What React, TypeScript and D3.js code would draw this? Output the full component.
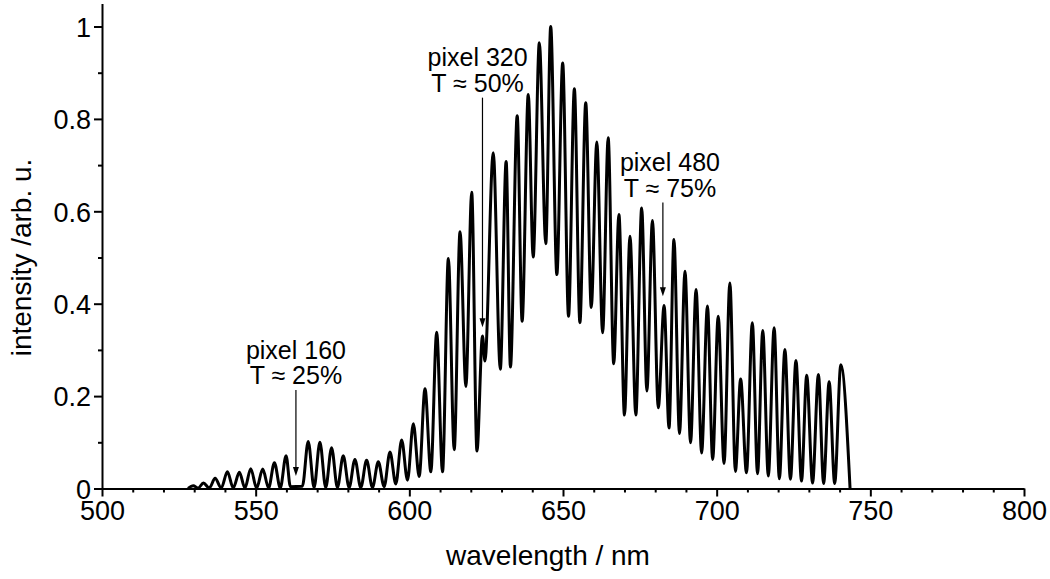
import React, { useRef, useEffect } from 'react'
import * as d3 from 'd3'

// Spectrum turning points (valley, peak, valley, ...)
const wavelengthNm = [
  528.0, 529.7, 531.3, 533.0, 534.9, 536.8, 538.8, 540.8, 542.7, 544.7,
  546.5, 548.4, 550.3, 552.3, 554.2, 556.1, 558.0, 559.9, 561.3, 565.2,
  567.1, 569.0, 570.9, 572.8, 574.7, 576.6, 578.5, 580.4, 582.3, 584.2,
  586.1, 588.0, 589.9, 591.8, 593.7, 595.6, 597.5, 599.4, 601.3, 603.2,
  605.1, 607.0, 608.9, 610.8, 612.7, 614.6, 616.5, 618.4, 620.3, 622.0,
  623.8, 624.6, 627.3, 629.6, 631.5, 632.9, 635.1, 636.7, 638.7, 640.3,
  642.3, 644.4, 646.0, 648.0, 649.9, 651.8, 653.7, 655.5, 657.4, 659.2,
  661.0, 662.9, 664.7, 666.5, 668.2, 670.0, 671.8, 673.7, 675.6, 677.3,
  679.1, 681.0, 682.9, 684.5, 686.1, 687.9, 689.7, 691.5, 693.3, 695.1,
  697.0, 698.7, 700.5, 702.4, 704.3, 706.1, 707.8, 709.7, 711.6, 713.3,
  715.0, 716.8, 718.7, 720.4, 722.2, 724.0, 725.8, 727.6, 729.3, 731.2,
  733.1, 734.8, 736.6, 738.4, 740.4, 743.4,
]
const intensity = [
  0.000, 0.006, 0.001, 0.012, 0.001, 0.022, 0.001, 0.036, 0.001, 0.035,
  0.001, 0.043, 0.001, 0.042, 0.001, 0.056, 0.001, 0.071, 0.004, 0.005,
  0.102, 0.002, 0.100, 0.002, 0.088, 0.002, 0.071, 0.002, 0.063, 0.002,
  0.061, 0.002, 0.058, 0.004, 0.079, 0.010, 0.105, 0.018, 0.140, 0.026,
  0.216, 0.036, 0.338, 0.036, 0.498, 0.084, 0.556, 0.221, 0.641, 0.081,
  0.330, 0.276, 0.727, 0.258, 0.708, 0.263, 0.807, 0.362, 0.853, 0.501,
  0.965, 0.530, 1.000, 0.463, 0.921, 0.373, 0.865, 0.359, 0.835, 0.392,
  0.750, 0.337, 0.759, 0.270, 0.593, 0.159, 0.546, 0.159, 0.607, 0.211,
  0.580, 0.175, 0.396, 0.131, 0.539, 0.119, 0.470, 0.099, 0.431, 0.077,
  0.395, 0.063, 0.373, 0.054, 0.445, 0.037, 0.237, 0.034, 0.359, 0.032,
  0.342, 0.027, 0.348, 0.021, 0.301, 0.020, 0.277, 0.016, 0.245, 0.012,
  0.247, 0.011, 0.231, 0.011, 0.268, 0.000,
]

const xTicks = [500, 550, 600, 650, 700, 750, 800]
const xMinorTicks = [510, 520, 530, 540, 560, 570, 580, 590, 610, 620, 630, 640, 660, 670, 680, 690, 710, 720, 730, 740, 760, 770, 780, 790]
const yTicks = [0, 0.2, 0.4, 0.6, 0.8, 1]
const yTickLabels = ['0', '0.2', '0.4', '0.6', '0.8', '1']
const yMinorTicks = [0.1, 0.3, 0.5, 0.7, 0.9]

// annotations: two text lines, arrow wavelength, text wavelength, arrow tail/tip intensity
const noteLine1 = ['pixel 160', 'pixel 320', 'pixel 480']
const noteLine2 = ['T ≈ 25%', 'T ≈ 50%', 'T ≈ 75%']
const noteArrowNm = [563.1, 623.8, 682.5]
const noteTextNm = [563.1, 622.2, 684.8]
const noteTail = [0.213, 0.846, 0.619]
const noteTip = [0.027, 0.349, 0.416]

const font = '"Liberation Sans", Arial, sans-serif'

export default function App() {
  const ref = useRef<SVGSVGElement>(null)
  const layout = { width: 1050, height: 579, marginLeft: 102, marginRight: 26, marginTop: 3.4, marginBottom: 90.5 }

  useEffect(() => {
    const svg = d3.select(ref.current)
    svg.selectAll('*').remove()

    const x = d3.scaleLinear()
      .domain([500, 800])
      .range([layout.marginLeft, layout.width - layout.marginRight])
    const y = d3.scaleLinear()
      .domain([0, 1.05])
      .range([layout.height - layout.marginBottom, layout.marginTop])

    const y0 = y(0)

    // minor ticks
    svg.append('g')
      .attr('transform', `translate(0, ${y0})`)
      .call(d3.axisBottom(x).tickValues(xMinorTicks).tickSize(4).tickSizeOuter(0).tickFormat(() => ''))
      .call(g => g.select('.domain').remove())
    svg.append('g')
      .attr('transform', `translate(${layout.marginLeft}, 0)`)
      .call(d3.axisLeft(y).tickValues(yMinorTicks).tickSize(4).tickSizeOuter(0).tickFormat(() => ''))
      .call(g => g.select('.domain').remove())

    // major axes
    svg.append('g')
      .attr('transform', `translate(0, ${y0})`)
      .call(d3.axisBottom(x).tickValues(xTicks).tickSize(8).tickSizeOuter(0).tickPadding(4).tickFormat(d => String(d)))
    const yAxis = svg.append('g')
      .attr('transform', `translate(${layout.marginLeft}, 0)`)
      .call(d3.axisLeft(y).tickValues(yTicks).tickSize(8).tickSizeOuter(0).tickPadding(3)
        .tickFormat((d, i) => yTickLabels[i]))

    svg.selectAll('.tick line').attr('stroke', '#000').attr('stroke-width', 2)
    svg.selectAll('.domain').attr('stroke', '#000').attr('stroke-width', 2)
    svg.selectAll('.tick text')
      .attr('fill', '#000')
      .attr('font-family', font)
      .attr('font-size', 27)
    yAxis.selectAll('.tick text').attr('dy', '0.36em')

    // spectrum
    const line = d3.line<number>()
      .x((d, i) => x(wavelengthNm[i]))
      .y(d => y(d))
      .curve(d3.curveMonotoneX)

    svg.append('path')
      .datum(intensity)
      .attr('d', line)
      .attr('fill', 'none')
      .attr('stroke', '#000')
      .attr('stroke-width', 3)
      .attr('stroke-linejoin', 'round')

    // annotations
    const notes = svg.append('g').attr('font-family', font).attr('font-size', 25).attr('fill', '#000')
    noteLine1.forEach((t, i) => {
      const ax = x(noteArrowNm[i])
      const tail = y(noteTail[i])
      const tip = y(noteTip[i])
      notes.append('line')
        .attr('x1', ax).attr('x2', ax)
        .attr('y1', tail).attr('y2', tip - 6)
        .attr('stroke', '#000').attr('stroke-width', 1.2)
      notes.append('path')
        .attr('d', `M${ax},${tip} L${ax - 3},${tip - 9} L${ax + 3},${tip - 9} Z`)
        .attr('fill', '#000')
      notes.append('text')
        .attr('x', x(noteTextNm[i]))
        .attr('y', tail - 6 - 25.5)
        .attr('text-anchor', 'middle')
        .text(t)
      notes.append('text')
        .attr('x', x(noteTextNm[i]))
        .attr('y', tail - 6)
        .attr('text-anchor', 'middle')
        .text(noteLine2[i])
    })

    // axis titles
    svg.append('text')
      .attr('x', 548)
      .attr('y', 565)
      .attr('text-anchor', 'middle')
      .attr('font-family', font)
      .attr('font-size', 28)
      .text('wavelength / nm')
    svg.append('text')
      .attr('transform', `translate(31, ${y(0.5)}) rotate(-90)`)
      .attr('text-anchor', 'middle')
      .attr('font-family', font)
      .attr('font-size', 28)
      .text('intensity /arb. u.')
  }, [])

  return (
    <svg ref={ref} width={layout.width} height={layout.height}
      style={{ position: 'absolute', left: 0, top: 0, background: '#fff' }} />
  )
}
